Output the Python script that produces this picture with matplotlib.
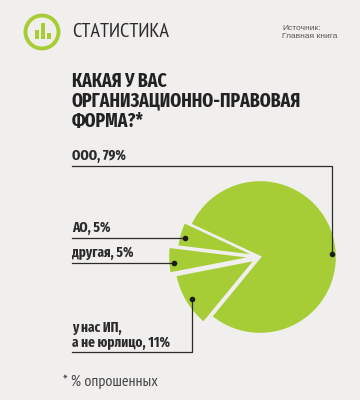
import matplotlib
matplotlib.use('Agg')
import matplotlib.pyplot as plt
from matplotlib.patches import Circle, Rectangle

# values, clockwise from the upper left
labels = ['ООО', 'у нас ИП', 'другая', 'АО']
shares = [79, 11, 5, 5]
explode_px = [0, 5, 6, 2.5]
radius_px = [77, 82, 86, 81]

bg = '#f1efee'
green = '#a6cd36'
dark = '#2b2b2b'
narrow = ['PT Sans Narrow', 'Liberation Sans', 'DejaVu Sans']
heavy = ['Fira Sans Extra Condensed', 'PT Sans Narrow', 'Liberation Sans', 'DejaVu Sans']

fig = plt.figure(figsize=(3.6, 4), dpi=100, facecolor=bg)

# pie axes: 1 unit = pie radius
cx, cy, r = 260, 257, 76
k = 1.5
pie_ax = fig.add_axes([(cx - r*k)/360, 1 - (cy + r*k)/400, 2*r*k/360, 2*r*k/400])
wedges, _ = pie_ax.pie(shares, explode=[e/r for e in explode_px], colors=[green]*4, startangle=155,
                       counterclock=False, wedgeprops=dict(edgecolor=bg, linewidth=1.7))
for w, rad in zip(wedges, radius_px):
    w.set_radius(rad/r)
pie_ax.set_xlim(-k, k)
pie_ax.set_ylim(-k, k)

# overlay in pixel coordinates
ax = fig.add_axes([0, 0, 1, 1])
ax.set_xlim(0, 360)
ax.set_ylim(400, 0)
ax.axis('off')
ax.patch.set_alpha(0)

# logo
ax.add_patch(Circle((42, 32), 16.5, fc='none', ec=green, lw=2.8))
for x0, top in [(34.5, 30), (40.5, 23), (47, 33)]:
    ax.add_patch(Rectangle((x0, top), 4.2, 39 - top, fc=green, ec='none'))

ax.text(72, 32, 'СТАТИСТИКА', family=narrow, fontsize=14.7, color=dark, va='center')
ax.text(282, 28, 'Источник:', fontsize=6, family='Liberation Sans', color='#555555', va='center')
ax.text(282, 36, 'Главная книга', fontsize=6, family='Liberation Sans', color='#555555', va='center')

title = ['КАКАЯ У ВАС', 'ОРГАНИЗАЦИОННО-ПРАВОВАЯ', 'ФОРМА?*']
for y, line in zip([81, 101, 121], title):
    ax.text(72, y, line, family=heavy, weight='bold', fontsize=13.8, color='#222222', va='center')

# leaders
lw = 0.9
ax.plot([72, 332, 332], [166, 166, 254], color=dark, lw=lw)
ax.plot([72, 185], [237.5, 237.5], color=dark, lw=lw)
ax.plot([72, 174], [263, 263], color=dark, lw=lw)
ax.plot([72, 192, 192], [352, 352, 299], color=dark, lw=lw)
ax.scatter([332, 185, 174, 192], [254, 237.5, 263, 299], s=9, color='#1c1c1c', zorder=5)

fs = 10.4
ax.text(72, 156, f'{labels[0]}, {shares[0]}%', family=heavy, weight='bold', fontsize=fs, color=dark, va='center')
ax.text(72, 228, f'{labels[3]}, {shares[3]}%', family=heavy, weight='bold', fontsize=fs, color=dark, va='center')
ax.text(72, 253, f'{labels[2]}, {shares[2]}%', family=heavy, weight='bold', fontsize=fs, color=dark, va='center')
ax.text(72, 327.5, 'у нас ИП,', family=heavy, weight='bold', fontsize=fs, color=dark, va='center')
ax.text(72, 342.5, f'а не юрлицо, {shares[1]}%', family=heavy, weight='bold', fontsize=fs, color=dark, va='center')

ax.text(63, 382, '* % опрошенных', family=narrow, fontsize=11.5, color='#444444', va='center')

fig.savefig('out.png', dpi=100, facecolor=bg)
